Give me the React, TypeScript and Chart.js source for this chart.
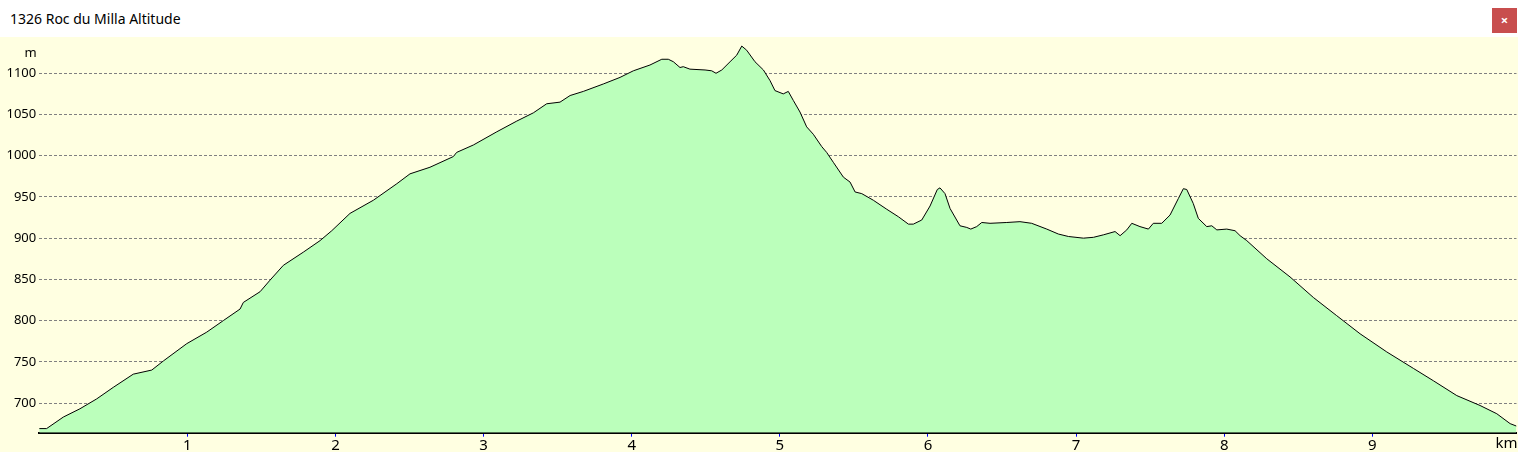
import React, { useEffect, useRef } from "react";
import { Chart, registerables } from "chart.js";

Chart.register(...registerables);

const titleText = "1326 Roc du Milla Altitude";
const yUnitLabel = "m";
const xUnitLabel = "km";

const distanceKm = [
  0.0, 0.05, 0.163, 0.275, 0.388, 0.5, 0.635, 0.76, 0.838, 0.996,
  1.131, 1.243, 1.356, 1.378, 1.491, 1.558, 1.648, 1.783, 1.896, 1.975,
  2.098, 2.256, 2.414, 2.503, 2.638, 2.796, 2.818, 2.931, 3.089, 3.224,
  3.336, 3.426, 3.516, 3.584, 3.673, 3.808, 3.921, 4.011, 4.123, 4.203,
  4.247, 4.281, 4.326, 4.348, 4.393, 4.495, 4.54, 4.569, 4.608, 4.664,
  4.709, 4.743, 4.776, 4.832, 4.889, 4.934, 4.967, 5.023, 5.057, 5.091,
  5.136, 5.181, 5.226, 5.283, 5.316, 5.361, 5.429, 5.474, 5.508, 5.553,
  5.631, 5.722, 5.8, 5.868, 5.901, 5.958, 6.014, 6.063, 6.081, 6.115,
  6.149, 6.216, 6.262, 6.289, 6.329, 6.363, 6.419, 6.532, 6.621, 6.7,
  6.802, 6.88, 6.948, 7.049, 7.117, 7.184, 7.263, 7.297, 7.342, 7.376,
  7.431, 7.488, 7.521, 7.578, 7.634, 7.69, 7.724, 7.747, 7.791, 7.825,
  7.882, 7.916, 7.95, 8.017, 8.073, 8.107, 8.152, 8.287, 8.444, 8.602,
  8.759, 8.917, 9.097, 9.277, 9.412, 9.57, 9.727, 9.84, 9.93, 9.973,
];

const elevationM = [
  669, 669, 683, 693, 705, 719, 735, 740, 751, 772,
  786, 800, 814, 822, 835, 849, 867, 883, 897, 909,
  930, 946, 966, 978, 986, 999, 1004, 1013, 1029, 1042,
  1052, 1063, 1065, 1073, 1078, 1087, 1095, 1103, 1110, 1117,
  1117, 1114, 1107, 1108, 1105, 1104, 1103, 1100, 1104, 1114,
  1122, 1133, 1128, 1114, 1104, 1091, 1079, 1075, 1078, 1067,
  1053, 1035, 1026, 1011, 1004, 992, 974, 968, 956, 954,
  946, 935, 926, 917, 917, 922, 939, 959, 961, 954,
  936, 915, 913, 911, 914, 919, 918, 919, 920, 918,
  911, 905, 902, 900, 901, 904, 908, 903, 910, 918,
  914, 911, 918, 918, 928, 948, 960, 959, 942, 924,
  914, 915, 910, 911, 909, 903, 897, 875, 853, 828,
  806, 784, 762, 742, 727, 709, 697, 687, 675, 672,
];

const yTickValues = [700, 750, 800, 850, 900, 950, 1000, 1050, 1100];
const xTickValues = [1, 2, 3, 4, 5, 6, 7, 8, 9];
const yMin = 664;
const yMax = 1144;

const FONT = "'Noto Sans', 'DejaVu Sans', sans-serif";

const decorPlugin = {
  id: "decor",
  beforeDraw(chart: any) {
    const ctx = chart.ctx;
    ctx.save();
    ctx.fillStyle = "#ffffe1";
    ctx.fillRect(0, 0, chart.width, chart.height);
    ctx.restore();
  },
  afterDraw(chart: any) {
    const ctx = chart.ctx;
    ctx.save();
    ctx.fillStyle = "#000";
    ctx.textAlign = "center";
    ctx.textBaseline = "alphabetic";
    ctx.font = `13px ${FONT}`;
    ctx.fillText(yUnitLabel, 30.5, 20);
    ctx.font = `15px ${FONT}`;
    ctx.fillText(xUnitLabel, 1506.5, 411);
    ctx.restore();
  },
};

export default function App() {
  const canvasRef = useRef<HTMLCanvasElement | null>(null);

  useEffect(() => {
    if (!canvasRef.current) return;
    const points = distanceKm.map((d, i) => ({ x: d, y: elevationM[i] }));
    const chart = new Chart(canvasRef.current, {
      type: "line",
      data: {
        datasets: [
          {
            data: points,
            borderColor: "#000000",
            borderWidth: 1,
            backgroundColor: "#bbffbb",
            fill: "start",
            pointRadius: 0,
            tension: 0,
          },
        ],
      },
      options: {
        animation: false,
        responsive: false,
        devicePixelRatio: 1,
        layout: { padding: { left: 0, right: 1.5, top: 0, bottom: 0 } },
        plugins: {
          legend: { display: false },
          tooltip: { enabled: false },
          title: { display: false },
        },
        scales: {
          x: {
            type: "linear",
            min: 0,
            max: distanceKm[distanceKm.length - 1],
            z: 1,
            afterBuildTicks: (scale: any) => {
              scale.ticks = xTickValues.map((v) => ({ value: v }));
            },
            afterFit: (scale: any) => {
              scale.height = 19.3;
              scale.paddingLeft = 0;
              scale.paddingRight = 0;
            },
            ticks: {
              color: "#000",
              font: { family: FONT, size: 15 },
              padding: 0,
              maxRotation: 0,
              autoSkip: false,
              callback: (v: any) => String(v),
            },
            grid: {
              drawOnChartArea: false,
              drawTicks: true,
              tickLength: 4,
              color: "#0000ff",
              lineWidth: 1,
            },
            border: { display: true, color: "#000", width: 2 },
          },
          y: {
            type: "linear",
            min: yMin,
            max: yMax,
            z: 1,
            afterBuildTicks: (scale: any) => {
              scale.ticks = yTickValues.map((v) => ({ value: v }));
            },
            afterFit: (scale: any) => {
              scale.width = 39.2;
              scale.paddingTop = 0;
              scale.paddingBottom = 0;
            },
            ticks: {
              color: "#000",
              font: { family: FONT, size: 13 },
              padding: 3,
              autoSkip: false,
              callback: (v: any) => String(v),
            },
            grid: {
              drawTicks: false,
              color: "#808080",
              lineWidth: 1,
            },
            border: { display: false, dash: [3, 2] },
          },
        },
      },
      plugins: [decorPlugin],
    });
    return () => chart.destroy();
  }, []);

  return (
    <div
      style={{
        position: "fixed",
        left: 0,
        top: 0,
        width: 1518,
        height: 452,
        background: "#ffffff",
        overflow: "hidden",
      }}
    >
      <div
        style={{
          position: "absolute",
          left: 10,
          top: 0,
          height: 37,
          lineHeight: "37px",
          fontFamily: FONT,
          fontSize: 14,
          color: "#000",
          whiteSpace: "nowrap",
        }}
      >
        {titleText}
      </div>
      <div
        style={{
          position: "absolute",
          left: 1492,
          top: 8,
          width: 25,
          height: 25,
          background: "#c84e4e",
          color: "#fff",
          fontFamily: FONT,
          fontSize: 13,
          fontWeight: "bold",
          lineHeight: "24px",
          textAlign: "center",
        }}
      >
        ×
      </div>
      <canvas
        ref={canvasRef}
        width={1518}
        height={415}
        style={{ position: "absolute", left: 0, top: 37, width: 1518, height: 415 }}
      />
    </div>
  );
}
